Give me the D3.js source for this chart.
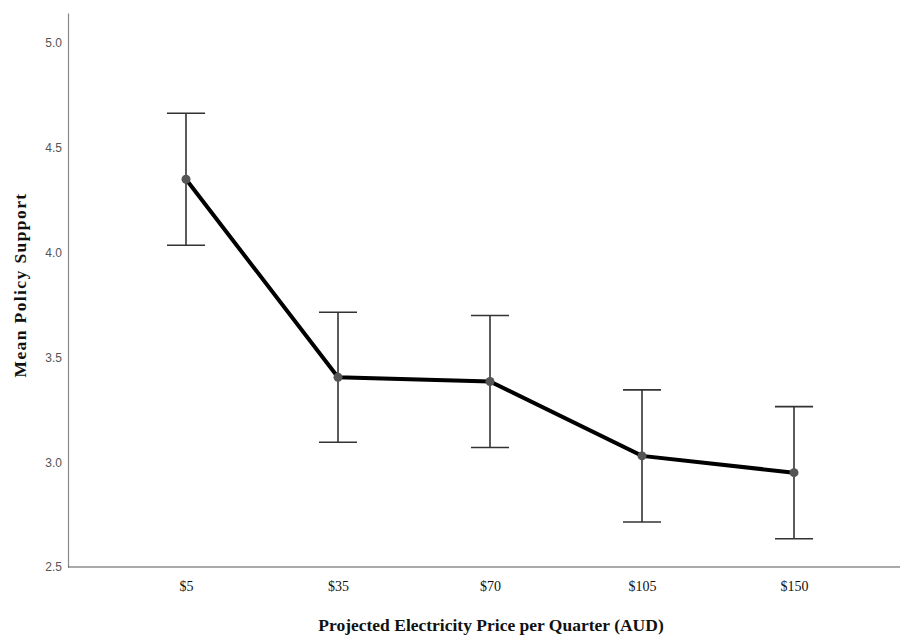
<!DOCTYPE html>
<html lang="en">
<head>
<meta charset="UTF-8">
<title>Mean Policy Support</title>
<script src="https://d3js.org/d3.v7.min.js"></script>
<style>
  body { margin: 0; background: #fff; }
  .ytick { font-family: "Liberation Sans", "DejaVu Sans", sans-serif; font-size: 12px; fill: #555; }
  .xtick { font-family: "Liberation Serif", serif; font-size: 14px; fill: #111; }
  .title { font-family: "Liberation Serif", serif; font-size: 17.5px; font-weight: bold; fill: #111; }
</style>
</head>
<body>
<div id="chart"></div>
<script>
// values
var prices = ["$5", "$35", "$70", "$105", "$150"];
var means = [4.35, 3.405, 3.385, 3.03, 2.95];
var upper = [4.665, 3.715, 3.70, 3.345, 3.265];
var lower = [4.035, 3.095, 3.07, 2.715, 2.635];
var yTicks = [2.5, 3.0, 3.5, 4.0, 4.5, 5.0];

var width = 901, height = 637;
var plotLeft = 68, plotRight = 900, plotTop = 13, plotBottom = 567;

var svg = d3.select("#chart").append("svg")
    .attr("width", width)
    .attr("height", height);

var x = d3.scalePoint().domain(prices).range([186, 794]);
var y = d3.scaleLinear().domain([2.5, 5.143]).range([plotBottom, plotTop]);

// y axis
var yAxis = d3.axisLeft(y).tickValues(yTicks).tickFormat(d3.format(".1f")).tickSize(0).tickPadding(6);
var gy = svg.append("g").attr("transform", "translate(" + plotLeft + ",0)").call(yAxis);
gy.select(".domain").attr("stroke", "#888").attr("stroke-width", 1.2);
gy.selectAll("text").attr("class", "ytick").attr("font-family", null).attr("font-size", null).attr("fill", null);

// x axis
var xAxis = d3.axisBottom(x).tickSize(0).tickPadding(14);
var gx = svg.append("g").attr("transform", "translate(0," + plotBottom + ")").call(xAxis);
gx.select(".domain").attr("d", "M" + plotLeft + ",0H" + plotRight).attr("stroke", "#555").attr("stroke-width", 1.2);
gx.selectAll("text").attr("class", "xtick").attr("font-family", null).attr("font-size", null).attr("fill", null);

// error bars
var capW = 19;
var eb = svg.append("g").attr("stroke", "#333").attr("stroke-width", 1.6);
prices.forEach(function(p, i) {
  eb.append("line").attr("x1", x(p)).attr("x2", x(p)).attr("y1", y(upper[i])).attr("y2", y(lower[i]));
  eb.append("line").attr("x1", x(p) - capW).attr("x2", x(p) + capW).attr("y1", y(upper[i])).attr("y2", y(upper[i]));
  eb.append("line").attr("x1", x(p) - capW).attr("x2", x(p) + capW).attr("y1", y(lower[i])).attr("y2", y(lower[i]));
});

// mean line
var line = d3.line().x(function(d, i) { return x(prices[i]); }).y(function(d) { return y(d); });
svg.append("path")
    .datum(means)
    .attr("d", line)
    .attr("fill", "none")
    .attr("stroke", "#000")
    .attr("stroke-width", 4);

svg.selectAll("circle.pt")
    .data(means)
    .enter().append("circle")
    .attr("class", "pt")
    .attr("cx", function(d, i) { return x(prices[i]); })
    .attr("cy", function(d) { return y(d); })
    .attr("r", 4.5)
    .attr("fill", "#555");

// titles
svg.append("text").attr("class", "title")
    .attr("x", 491).attr("y", 631)
    .attr("text-anchor", "middle")
    .text("Projected Electricity Price per Quarter (AUD)");

svg.append("text").attr("class", "title")
    .attr("transform", "translate(26,285) rotate(-90)")
    .attr("text-anchor", "middle")
    .style("letter-spacing", "1.4px")
    .text("Mean Policy Support");
</script>
</body>
</html>
